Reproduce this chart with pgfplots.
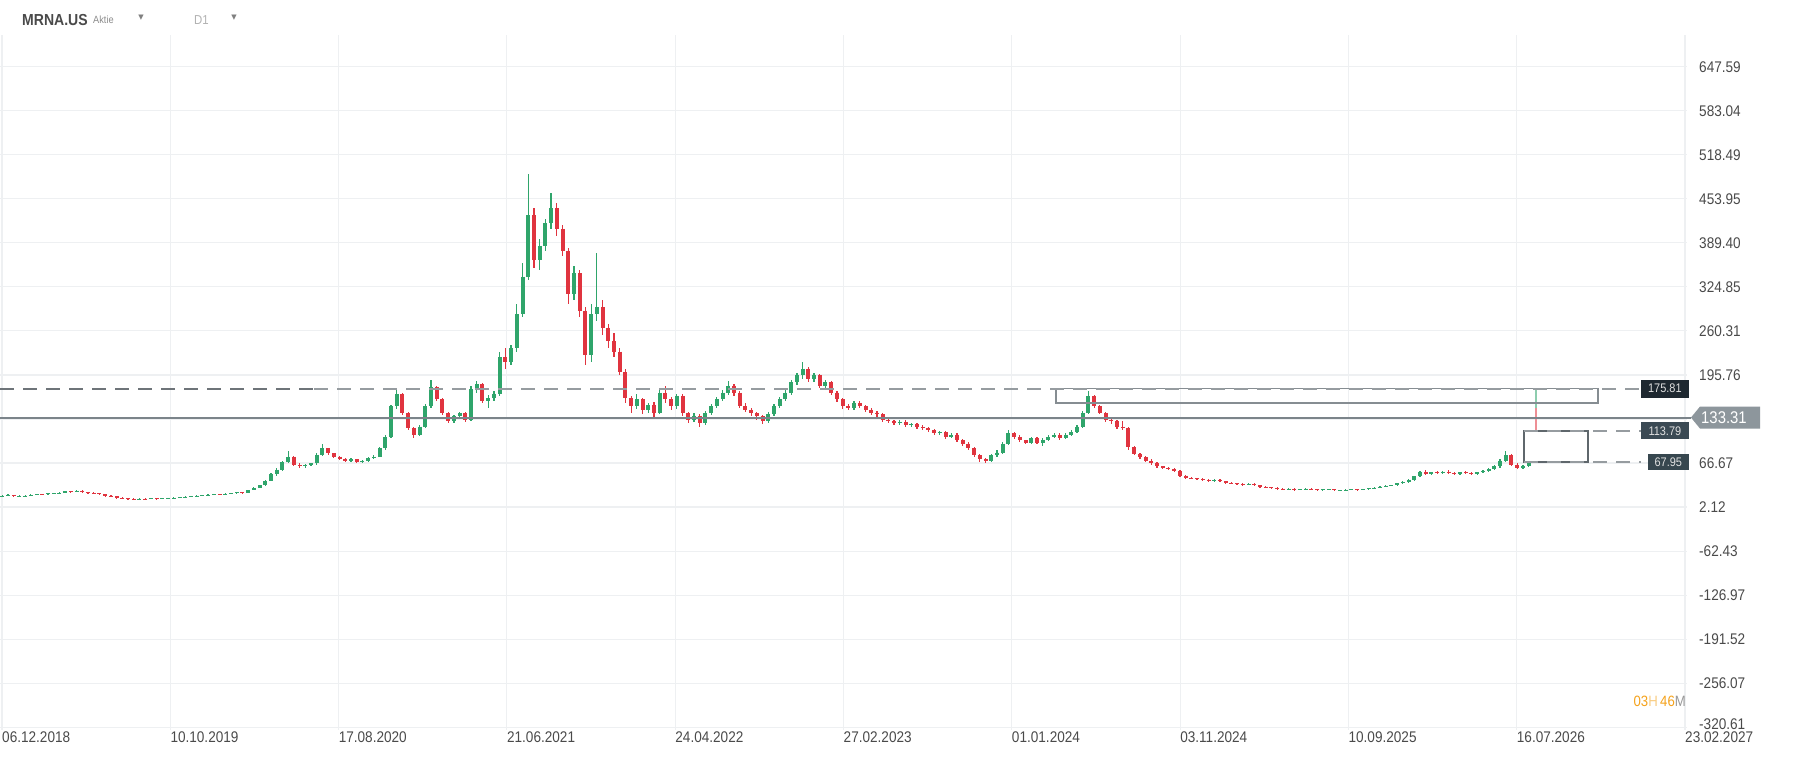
\documentclass[border=0pt]{standalone}
\usepackage{fontspec}
\usepackage{pgfplots}
\usepackage{pgfplotstable}
\pgfplotsset{compat=1.18}
\newfontfamily\lbl[FakeStretch=0.88]{Liberation Sans}
\newfontfamily\symf{DejaVu Sans}
\definecolor{cgreen}{HTML}{2FA56B}
\definecolor{cred}{HTML}{E0343F}
\definecolor{gridc}{HTML}{EEF0F2}
\definecolor{labc}{HTML}{4A4A4A}
\definecolor{dashc}{HTML}{969CA0}
\definecolor{dashd}{HTML}{6E7479}
\definecolor{linec}{HTML}{7B848A}
\definecolor{rectc}{HTML}{868D92}
\definecolor{rect2c}{HTML}{5F676C}
\definecolor{boxa}{HTML}{1E2830}
\definecolor{boxb}{HTML}{3B4A54}
\definecolor{boxc}{HTML}{37474F}
\definecolor{markc}{HTML}{8D969C}
\definecolor{orangec}{HTML}{F5A21B}

% x = position index along the time axis, o h l c = open high low close
\pgfplotstableread{
x o h l c
2 18.5 20 17.8 19
7 19 20.8 18.6 20
12 20 20.4 17.5 18
17 18 19.2 17.6 18.5
22 18.5 19.6 18.1 19
27 19 20.6 18.6 20
32 20 21.6 19.6 21
37 21 21.5 20 20.5
42 20.5 22.7 20.1 22
47 22 23.2 21.5 22.5
52 22.5 23.8 22 23
57 23 25.8 22.6 25
62 25 25.7 23.4 24
67 24 27 23.5 26
72 26 26.6 23.4 24
77 24 24.6 22.4 23
82 23 23.6 21.4 22
87 22 22.6 20.4 21
92 21 21.5 18.5 19
97 19 19.5 17.5 18
102 18 18.4 15.6 16
107 16 16.4 14.6 15
112 15 15.4 14.1 14.5
117 14.5 15 13.6 14
122 14 14.9 13.6 14.5
127 14.5 14.9 13.6 14
132 14 15.4 13.7 15
137 15 15.3 14.1 14.5
142 14.5 15.4 14.2 15
147 15 15.9 14.7 15.5
152 15.5 16.4 15.2 16
157 16 16.9 15.7 16.5
162 16.5 17.9 16.2 17.5
167 17.5 18.4 17.1 18
172 18 19.5 17.6 19
177 19 20 18.6 19.5
182 19.5 20.5 19.1 20
187 20 21.5 19.6 21
192 21 21.4 20 20.5
197 20.5 22 20.1 21.5
202 21.5 22.6 21.1 22
207 22 24.7 21.6 24
212 24 24.6 22.4 23
217 23 27.8 22.6 27
222 27 30.8 26.5 30
227 30 34.5 29.4 34
232 34 42 33 41
237 41 52 40 50
242 50 59 48 57
247 57 70 55 68
252 68 84 66 76
257 76 77 62 64
262 64 66 60 62
267 62 65.5 59 64
272 64 67 62 66
277 66 81 64 79
282 79 94 77 88
287 88 89 79 81
292 81 82 74 76
297 76 77 71 73
302 73 74 68 70
307 70 74 68.5 72
312 72 73 66 68
317 68 71.5 66.5 70
322 70 75 68.5 74
327 74 78 72 76
332 76 90 75 88
337 88 107 86 105
342 105 152 103 150
347 150 176 146 168
352 168 170 137 140
357 140 142 115 118
362 118 120 103 108
367 108 123 106 120
372 120 153 118 150
377 150 188 147 178
382 178 180 157 160
387 160 162 137 140
392 140 142 125 128
397 128 137 126 135
402 135 142 132 140
407 140 141 127 130
412 130 180 128 175
417 175 187 170 182
422 182 184 155 158
427 158 166 148 162
432 162 172 158 168
437 168 230 165 222
442 222 235 205 215
447 215 240 210 235
452 235 300 230 285
457 285 360 280 340
462 340 491 335 430
467 430 440 352 365
472 365 395 350 385
477 385 425 378 418
482 418 463 410 440
487 440 448 400 410
492 410 415 370 378
497 378 382 300 315
502 315 356 305 345
507 345 350 280 290
512 290 295 210 225
517 225 300 215 285
522 285 375 275 295
527 295 305 255 265
532 265 270 235 245
537 245 258 222 230
542 230 235 195 200
547 200 205 155 162
552 162 165 140 150
557 150 168 146 160
562 160 162 138 145
567 145 155 140 152
572 152 156 133 140
577 140 175 138 170
582 170 180 155 160
587 160 164 145 150
592 150 168 146 165
597 165 168 136 140
602 140 142 126 130
607 130 140 127 136
612 136 138 120 125
617 125 143 122 140
622 140 153 137 150
627 150 163 147 160
632 160 173 157 170
637 170 187 166 180
642 180 182 165 170
647 170 172 147 150
652 150 155 141 145
657 145 147 135 140
662 140 142 130 135
667 135 137 124 128
672 128 141 125 138
677 138 153 135 150
682 150 163 147 160
687 160 173 157 170
692 170 188 167 185
697 185 198 181 195
702 195 215 190 205
707 205 208 185 190
712 190 198 186 195
717 195 197 176 180
722 180 188 176 185
727 185 187 166 170
732 170 172 156 160
737 160 162 146 150
742 150 153 145 148
747 148 158 145 155
752 155 157 147 150
757 150 152 141 145
762 145 147 137 140
767 140 143 134 138
772 138 140 127 130
777 130 132 125 128
782 128 130 122 125
787 125 130 123 127
792 127 129 119 122
797 122 126 120 124
802 124 126 117 120
807 120 122 115 118
812 118 120 112 115
817 115 117 107 110
822 110 114 108 112
827 112 114 102 105
832 105 110 103 108
837 108 110 97 100
842 100 102 92 95
847 95 97 85 88
852 88 90 75 78
857 78 80 68 72
862 72 74 66 70
867 70 80 68 78
872 78 85 76 82
877 82 97 80 95
882 95 115 93 110
887 110 112 102 105
892 105 107 97 100
897 100 101 94 96
902 96 105 94 103
907 103 105 94 96
912 96 103 92 101
917 101 107 99 105
922 105 110 103 108
927 108 110 101 104
932 104 110 102 108
937 108 115 106 112
942 112 123 110 120
947 120 143 118 140
952 140 172 138 165
957 165 167 147 150
962 150 152 138 140
967 140 142 127 130
972 130 132 124 128
977 128 130 117 120
982 120 128 115 118
987 118 120 86 90
992 90 92 78 80
997 80 82 72 75
1002 75 77 68 70
1007 70 72 64 66
1012 66 68 60 62
1017 62 63 58 60
1022 60 61 56 58
1027 58 59 53 55
1032 55 56 46 48
1037 48 49 44 45
1042 45 46 43 44
1047 44 45 42 43
1052 43 44 41 42
1057 42 43 39 40
1062 40 43 39 42
1067 42 43 39 40
1072 40 41 37 38
1077 38 39 36 37
1082 37 38 35 36
1087 36 37 34 35
1092 35 37 34 36
1097 36 37 33 34
1102 34 35 31 32
1107 32 33 30 31
1112 31 32 29 30
1117 30 31 28 29
1122 29 30 27 28
1127 28 30 27 29
1132 29 30 26.5 27
1137 27 29 26.5 28.5
1142 28.5 30 27.5 29
1147 29 30 27 28
1152 28 29 26 27
1157 27 28.5 26 28
1162 28 29 27 28.5
1167 28.5 29 26 26.5
1172 26.5 27.5 25.5 27
1177 27 28 26 27.5
1182 27.5 29 27 28.5
1187 28.5 29 27 27.5
1192 27.5 28.5 26.5 28
1197 28 30 27.5 29.5
1202 29.5 31 29 30.5
1207 30.5 33 30 32
1212 32 34 31 33.5
1217 33.5 35 32.5 34
1222 34 38 33.5 37
1227 37 40 36 39
1232 39 43 38 42
1237 42 48 41 47
1242 47 55 46 53
1247 53 56 50 51
1252 51 54 49.5 53
1257 53 55 51 52
1262 52 55 50 54
1267 54 56 51 52
1272 52 53 49 50
1277 50 54 49 53
1282 53 55 51 52
1287 52 53 49 50
1292 50 54 49 53
1297 53 56 52 55
1302 55 60 54 58
1307 58 64 57 62
1312 62 72 60 70
1317 70 84 68 78
1322 78 80 62 64
1327 64 66 58 60
1332 60 64 58 62
1337 62 68 61 66
}\candles

\pgfplotsset{candle/.style={only marks, mark=*, mark size=0pt, mark options={draw opacity=0, fill opacity=0}, forget plot,
  error bars/.cd, y dir=both, y explicit, error mark=none}}

\begin{document}
\begin{tikzpicture}
\useasboundingbox (0,0) rectangle (1795bp,776bp);
\fill[white] (0,0) rectangle (1795bp,776bp);

% header
\node[anchor=west, inner sep=0pt, text=labc, font=\lbl\bfseries\fontsize{16}{18}\selectfont] at (22bp,756bp) {MRNA.US};
\node[anchor=west, inner sep=0pt, text=black!45, font=\lbl\fontsize{10.5}{12}\selectfont] at (93bp,756bp) {Aktie};
\node[anchor=center, inner sep=0pt, text=black!50, font=\symf\fontsize{7}{8}\selectfont] at (141bp,758bp) {▼};
\node[anchor=west, inner sep=0pt, text=black!30, font=\lbl\fontsize{13}{14}\selectfont] at (194bp,756bp) {D1};
\node[anchor=center, inner sep=0pt, text=black!50, font=\symf\fontsize{7}{8}\selectfont] at (234bp,758bp) {▼};

\begin{axis}[
  at={(0,46bp)}, anchor=south west,
  scale only axis, width=1687bp, height=695bp,
  xmin=0, xmax=1475.5, ymin=-324.8, ymax=694.2,
  clip=false,
  axis line style={draw=none},
  major tick length=0pt,
  grid=major,
  grid style={draw=gridc, line width=1.1bp},
  xtick={1.75,148.95,296.15,443.35,590.55,737.75,884.95,1032.15,1179.35,1326.55,1473.75},
  xticklabels={06.12.2018,10.10.2019,17.08.2020,21.06.2021,24.04.2022,27.02.2023,01.01.2024,03.11.2024,10.09.2025,16.07.2026,23.02.2027},
  ytick={-320.61,-256.07,-191.52,-126.97,-62.43,2.12,66.67,131.22,195.76,260.31,324.85,389.40,453.95,518.49,583.04,647.59},
  yticklabels={\raisebox{6bp}{-320.61},-256.07,-191.52,-126.97,-62.43,2.12,66.67,{},195.76,260.31,324.85,389.40,453.95,518.49,583.04,647.59},
  yticklabel pos=right,
  tick label style={font=\lbl\fontsize{15.5}{16}\selectfont, text=labc, inner sep=0pt},
  xticklabel style={anchor=north west, yshift=-2bp},
  yticklabel style={anchor=west, xshift=12bp},
]

% wicks
\addplot[candle, error bar style={draw=cgreen, line width=1.2bp, solid}]
  table[x=x, y expr={\thisrow{c}>=\thisrow{o} ? \thisrow{c} : nan},
        y error plus expr={\thisrow{h}-\thisrow{c}}, y error minus expr={\thisrow{c}-\thisrow{l}}] {\candles};
\addplot[candle, error bar style={draw=cred, line width=1.2bp, solid}]
  table[x=x, y expr={\thisrow{c}<\thisrow{o} ? \thisrow{c} : nan},
        y error plus expr={\thisrow{h}-\thisrow{c}}, y error minus expr={\thisrow{c}-\thisrow{l}}] {\candles};
% bodies
\addplot[candle, error bar style={draw=cgreen, line width=4bp, solid}]
  table[x=x, y expr={\thisrow{c}>=\thisrow{o} ? \thisrow{c} : nan},
        y error plus expr={0}, y error minus expr={\thisrow{c}-\thisrow{o}}] {\candles};
\addplot[candle, error bar style={draw=cred, line width=4bp, solid}]
  table[x=x, y expr={\thisrow{c}<\thisrow{o} ? \thisrow{o} : nan},
        y error plus expr={0}, y error minus expr={\thisrow{o}-\thisrow{c}}] {\candles};

% last projected range
\addplot[candle, error bar style={draw=cgreen!55, line width=1.8bp, solid}]
  coordinates {(1343.5,161.4) +- (0,14.4)};
\addplot[candle, error bar style={draw=cred!55, line width=1.8bp, solid}]
  coordinates {(1343.5,130.4) +- (0,16.6)};

% drawings
\draw[rectc, line width=1.6bp] (axis cs:923.6,175.81) rectangle (axis cs:1397.7,154.6);
\draw[rect2c, line width=2bp] (axis cs:1333,113.79) rectangle (axis cs:1389,67.95);
\draw[dashd, line width=2bp, dash pattern=on 14bp off 9bp] (axis cs:0,175.81) -- (axis cs:274,175.81);
\draw[dashc, line width=2bp, dash pattern=on 14bp off 9bp] (axis cs:275,175.81) -- (axis cs:1435.3,175.81);
\draw[dashc, line width=2bp, dash pattern=on 14bp off 9bp] (axis cs:1333,113.79) -- (axis cs:1435.3,113.79);
\draw[dashc, line width=2bp, dash pattern=on 14bp off 9bp] (axis cs:1333,67.95) -- (axis cs:1435.3,67.95);
\draw[linec, line width=2bp] (axis cs:0,133.31) -- (axis cs:1479,133.31);

% price boxes
\node[anchor=east, fill=boxa, text=white!88!black, inner sep=0pt, minimum width=48bp, minimum height=18bp,
  font=\lbl\fontsize{12.5}{13}\selectfont] at (axis cs:1477.3,175.81) {175.81};
\node[anchor=east, fill=boxb, text=white!88!black, inner sep=0pt, minimum width=48bp, minimum height=17bp,
  font=\lbl\fontsize{12.5}{13}\selectfont] at (axis cs:1477.3,113.79) {113.79};
\node[anchor=east, fill=boxc, text=white!88!black, inner sep=0pt, minimum width=41bp, minimum height=16bp,
  font=\lbl\fontsize{12.5}{13}\selectfont] at (axis cs:1477.3,67.95) {67.95};
\coordinate (tip) at (axis cs:1479,133.31);
\end{axis}

% current price marker
\fill[markc] (tip) -- ++(9bp,11bp) -- ++(60bp,0bp) -- ++(0bp,-22bp) -- ++(-60bp,0bp) -- cycle;
\node[anchor=west, inner sep=0pt, text=white, font=\lbl\fontsize{17}{18}\selectfont] at ([xshift=10bp]tip) {133.31};

% countdown
\node[anchor=east, inner sep=0pt, font=\lbl\fontsize{15}{16}\selectfont] at (1686bp,75bp)
  {\textcolor{orangec}{03}\textcolor{orangec!55}{H}\,\textcolor{orangec}{46}\textcolor{black!40}{M}};
\end{tikzpicture}
\end{document}
